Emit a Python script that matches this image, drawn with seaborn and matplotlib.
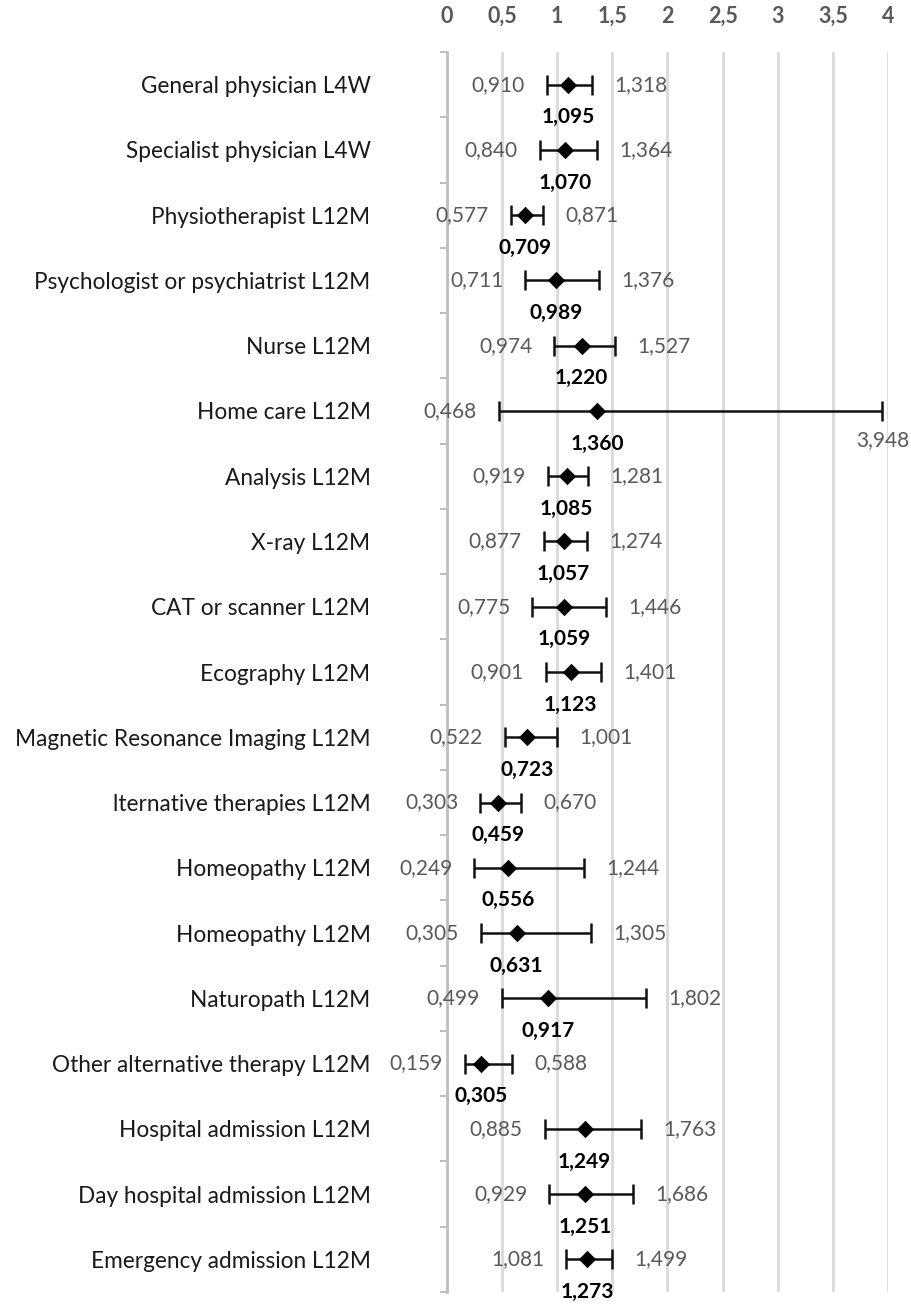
import matplotlib
matplotlib.use("Agg")
import matplotlib.pyplot as plt
import seaborn as sns
import pandas as pd
import numpy as np
from matplotlib.ticker import FixedLocator

categories = [
    "General physician L4W",
    "Specialist physician L4W",
    "Physiotherapist L12M",
    "Psychologist or psychiatrist L12M",
    "Nurse L12M",
    "Home care L12M",
    "Analysis L12M",
    "X-ray L12M",
    "CAT or scanner L12M",
    "Ecography L12M",
    "Magnetic Resonance Imaging L12M",
    "lternative therapies L12M",
    "Homeopathy L12M",
    "Homeopathy L12M",
    "Naturopath L12M",
    "Other alternative therapy L12M",
    "Hospital admission L12M",
    "Day hospital admission L12M",
    "Emergency admission L12M",
]
odds_ratio = [1.095, 1.070, 0.709, 0.989, 1.220, 1.360, 1.085, 1.057, 1.059, 1.123,
              0.723, 0.459, 0.556, 0.631, 0.917, 0.305, 1.249, 1.251, 1.273]
ci_lower = [0.910, 0.840, 0.577, 0.711, 0.974, 0.468, 0.919, 0.877, 0.775, 0.901,
            0.522, 0.303, 0.249, 0.305, 0.499, 0.159, 0.885, 0.929, 1.081]
ci_upper = [1.318, 1.364, 0.871, 1.376, 1.527, 3.948, 1.281, 1.274, 1.446, 1.401,
            1.001, 0.670, 1.244, 1.305, 1.802, 0.588, 1.763, 1.686, 1.499]
x_ticks = [0, 0.5, 1, 1.5, 2, 2.5, 3, 3.5, 4]
x_tick_labels = ["0", "0,5", "1", "1,5", "2", "2,5", "3", "3,5", "4"]

df = pd.DataFrame({"cat": categories, "or": odds_ratio, "lo": ci_lower, "hi": ci_upper})
df["pos"] = np.arange(len(df))

sns.set_theme(style="white")
plt.rcParams["font.family"] = ["Lato", "DejaVu Sans"]

fig = plt.figure(figsize=(9.12, 13.05), dpi=100)
ax = fig.add_axes([447 / 912, 13 / 1305, (888 - 447) / 912, (1292 - 52) / 1305])

GRID = "#d9d9d9"
TXT = "#595959"

fmt = lambda v: f"{v:.3f}".replace(".", ",")

# error bars
ax.errorbar(df["or"], df["pos"],
            xerr=[df["or"] - df["lo"], df["hi"] - df["or"]],
            fmt="none", ecolor="#111111", elinewidth=1.8, capsize=7, capthick=1.8, zorder=3)
# points
sns.scatterplot(data=df, x="or", y="pos", marker="D", color="black", s=70,
                edgecolor="black", linewidth=0.5, ax=ax, zorder=4, legend=False)

for _, r in df.iterrows():
    y = r["pos"]
    ax.annotate(fmt(r["lo"]), xy=(r["lo"], y), xytext=(-16, 0), textcoords="offset points",
                ha="right", va="center", fontsize=15, color=TXT)
    if r["hi"] > 3.5:
        ax.annotate(fmt(r["hi"]), xy=(r["hi"], y), xytext=(0, -21), textcoords="offset points",
                    ha="center", va="center", fontsize=15, color=TXT, annotation_clip=False)
    else:
        ax.annotate(fmt(r["hi"]), xy=(r["hi"], y), xytext=(16, 0), textcoords="offset points",
                    ha="left", va="center", fontsize=15, color=TXT)
    ax.annotate(fmt(r["or"]), xy=(r["or"], y + 0.5), ha="center", va="center",
                fontsize=15, fontweight="bold", color="black", annotation_clip=False)

ax.set_xlim(0, 4)
ax.set_ylim(len(df) - 0.5, -0.5)
ax.set_xticks(x_ticks)
ax.set_xticklabels(x_tick_labels, fontsize=15.5, fontweight="bold", color=TXT)
ax.xaxis.tick_top()
ax.tick_params(axis="x", length=0, pad=18)
ax.set_yticks(df["pos"])
ax.set_yticklabels(df["cat"], fontsize=16.3, color="#1a1a1a")
ax.yaxis.set_minor_locator(FixedLocator(np.arange(-0.5, len(df), 1.0)))
ax.tick_params(axis="y", which="major", length=0, pad=55)
ax.tick_params(axis="y", which="minor", length=5, width=1.5, color="#bfbfbf", left=True)
ax.set_xlabel("")
ax.set_ylabel("")

ax.grid(axis="x", color=GRID, linewidth=2)
ax.grid(axis="y", visible=False)
ax.set_axisbelow(True)
for s in ["top", "right", "bottom"]:
    ax.spines[s].set_visible(False)
ax.spines["left"].set_color("#bfbfbf")
ax.spines["left"].set_linewidth(2)

fig.savefig("out.png", dpi=100)
